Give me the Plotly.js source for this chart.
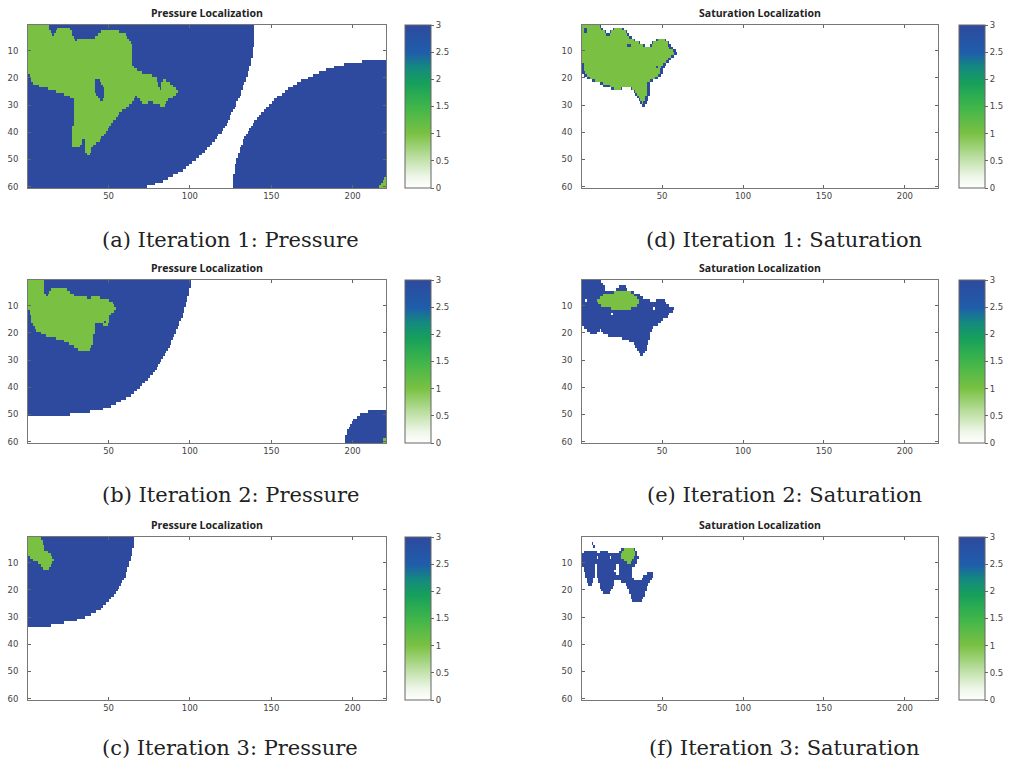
<!DOCTYPE html>
<html><head><meta charset="utf-8">
<script src="https://cdn.plot.ly/plotly-3.0.1.min.js"></script>
<style>html,body{margin:0;padding:0;background:#fff}#chart{width:1011px;height:765px}</style>
</head><body><div id="chart"></div>
<script>
// ---------------- data ----------------
const N_ROWS = 60, N_COLS = 220;
const VAL_BLUE = 3, VAL_GREEN = 1;
const X_TICKS = [50, 100, 150, 200];
const Y_TICKS = [10, 20, 30, 40, 50, 60];
const CB_TICKS = [0, 0.5, 1, 1.5, 2, 2.5, 3];
const CB_LABELS = ['0', '0.5', '1', '1.5', '2', '2.5', '3'];
const TITLE_P = 'Pressure Localization';
const TITLE_S = 'Saturation Localization';
const CAPTIONS = ['(a) Iteration 1: Pressure', '(d) Iteration 1: Saturation',
                  '(b) Iteration 2: Pressure', '(e) Iteration 2: Saturation',
                  '(c) Iteration 3: Pressure', '(f) Iteration 3: Saturation'];

// Pressure, iteration 1: last blue column of the upper-left region, per row
const P1_LEFT_EDGE = [139,139,139,139,139,139,139,139,138,138,138,138,137,137,137,136,136,135,135,134,
  134,133,132,132,131,131,130,129,128,128,127,126,125,124,124,123,122,121,120,119,
  117,116,115,113,112,110,109,107,105,103,101,99,97,95,92,89,86,83,78,73];
// Pressure, iteration 1: first blue column of the lower-right region, per row (0 = none)
const P1_RIGHT_START = [0,0,0,0,0,0,0,0,0,0,0,0,0,206,195,189,184,180,176,173,
  169,166,164,161,159,157,154,152,151,149,147,146,144,143,142,140,139,138,137,136,
  135,134,133,133,132,131,131,130,130,129,129,128,128,128,128,127,127,127,127,127];
const P1_GREEN = {
  1:[[1,13]], 2:[[1,13],[19,26]], 3:[[1,14],[18,27],[46,56]], 4:[[1,15],[17,27],[44,60]],
  5:[[1,28],[42,61]], 6:[[1,29],[31,62]], 7:[[1,63]], 8:[[1,64]], 9:[[1,64]], 10:[[1,64]],
  11:[[1,64]], 12:[[1,64]], 13:[[1,64]], 14:[[1,64]], 15:[[1,64]], 16:[[1,65]], 17:[[1,67]],
  18:[[1,70]], 19:[[2,76]], 20:[[3,79]], 21:[[3,41],[45,79],[84,85]], 22:[[4,41],[46,80],[83,87]],
  23:[[8,41],[47,80],[83,89]], 24:[[13,41],[48,81],[83,91]], 25:[[18,41],[48,92]],
  26:[[23,42],[48,91]], 27:[[27,43],[48,66],[68,89]], 28:[[29,44],[47,65],[70,86]],
  29:[[29,64],[71,74],[78,85]], 30:[[29,62],[82,84]], 31:[[29,60]], 32:[[29,58]], 33:[[29,56]],
  34:[[29,55]], 35:[[29,54]], 36:[[29,52]], 37:[[29,51]], 38:[[28,50]], 39:[[28,49]],
  40:[[28,48]], 41:[[28,47]], 42:[[28,45]], 43:[[28,33],[36,44]], 44:[[28,33],[36,42]],
  45:[[28,32],[36,40]], 46:[[36,39]], 47:[[36,39]], 48:[[37,38]],
  57:[[220,220]], 58:[[219,220]], 59:[[218,220]], 60:[[217,220]]
};

// Pressure, iteration 2
const P2_LEFT_EDGE = [100,100,100,99,99,99,98,98,97,97,96,96,95,95,94,93,93,92,91,91,
  90,89,88,88,87,86,85,84,83,82,81,80,79,78,77,75,74,72,70,69,
  67,65,63,60,57,54,51,46,38,26,0,0,0,0,0,0,0,0,0,0];
const P2_RIGHT_START = [0,0,0,0,0,0,0,0,0,0,0,0,0,0,0,0,0,0,0,0,
  0,0,0,0,0,0,0,0,0,0,0,0,0,0,0,0,0,0,0,0,
  0,0,0,0,0,0,0,0,210,205,203,201,200,199,198,197,197,196,196,196];
const P2_GREEN = {
  1:[[1,10]], 2:[[1,10]], 3:[[1,10]], 4:[[1,10],[15,24]], 5:[[1,10],[14,26]], 6:[[1,11],[13,28]],
  7:[[1,36],[40,44]], 8:[[1,50]], 9:[[1,52]], 10:[[1,53]], 11:[[1,54]], 12:[[2,53]], 13:[[2,51]],
  14:[[3,50]], 15:[[3,50]], 16:[[3,47],[49,50]], 17:[[4,41],[47,49]], 18:[[5,41]], 19:[[6,41]],
  20:[[9,41]], 21:[[12,40]], 22:[[18,40]], 23:[[23,40]], 24:[[26,40]], 25:[[29,39]], 26:[[32,38]],
  59:[[219,220]], 60:[[219,220]]
};

// Pressure, iteration 3
const P3_LEFT_EDGE = [65,65,65,65,64,64,64,63,63,62,62,61,61,60,60,59,58,57,56,55,
  54,53,51,50,48,46,45,42,39,35,30,22,14,0,0,0,0,0,0,0,
  0,0,0,0,0,0,0,0,0,0,0,0,0,0,0,0,0,0,0,0];
const P3_GREEN = {
  1:[[1,8]], 2:[[1,9]], 3:[[1,9]], 4:[[1,10]], 5:[[1,10]], 6:[[1,12]], 7:[[1,14]],
  8:[[2,15]], 9:[[4,16]], 10:[[7,15]], 11:[[9,14]], 12:[[10,13]]
};

// Saturation, iteration 1
const S1_BLUE = {
  1:[[1,12]], 2:[[1,13],[20,26]], 3:[[1,15],[18,28]], 4:[[1,29]], 5:[[1,31]],
  6:[[1,33],[47,52]], 7:[[1,36],[44,54]], 8:[[1,39],[43,55]], 9:[[1,56]], 10:[[1,58]],
  11:[[1,59]], 12:[[1,57]], 13:[[1,55]], 14:[[1,54]], 15:[[1,52]], 16:[[1,51]], 17:[[1,50]],
  18:[[1,50]], 19:[[2,49]], 20:[[4,47]], 21:[[7,44]], 22:[[12,42]], 23:[[14,42]],
  24:[[19,25],[31,42]], 25:[[33,42]], 26:[[34,42]], 27:[[35,41]], 28:[[36,41]], 29:[[37,40]], 30:[[38,39]]
};
const S1_GREEN = {
  1:[[1,11]], 2:[[1,1],[4,12],[21,25]], 3:[[1,1],[4,14],[19,27]], 4:[[1,15],[18,28]], 5:[[1,29]],
  6:[[1,32],[48,51]], 7:[[1,35],[45,53]], 8:[[1,28],[31,38],[44,53]], 9:[[1,54]], 10:[[1,56]],
  11:[[1,57]], 12:[[1,55]], 13:[[1,53]], 14:[[1,52]], 15:[[2,50]], 16:[[2,46],[48,49]],
  17:[[2,48]], 18:[[3,48]], 19:[[4,47]], 20:[[6,45]], 21:[[9,42]], 22:[[14,40]], 23:[[18,40]],
  24:[[21,24],[32,40]], 25:[[34,40]], 26:[[35,40]], 27:[[36,39]], 28:[[37,39]], 29:[[38,38]]
};

// Saturation, iteration 2
const S2_BLUE = {
  1:[[1,12]], 2:[[1,13]], 3:[[1,14],[24,27]], 4:[[1,14],[22,28]], 5:[[1,32]], 6:[[1,36]],
  7:[[1,38]], 8:[[1,42],[47,51]], 9:[[1,52]], 10:[[1,54]], 11:[[1,57]], 12:[[1,56]],
  13:[[1,54]], 14:[[1,53]], 15:[[1,50]], 16:[[1,49]], 17:[[1,47]], 18:[[2,44]],
  19:[[4,11],[13,43]], 20:[[6,9],[14,42]], 21:[[17,42]], 22:[[26,42]], 23:[[30,41]],
  24:[[33,41]], 25:[[34,40]], 26:[[35,40]], 27:[[36,39]], 28:[[37,38]]
};
const S2_GREEN = {
  5:[[21,30]], 6:[[14,32]], 7:[[12,34]], 8:[[10,35]], 9:[[11,35]], 10:[[13,34]], 11:[[19,30]]
};
const S2_HOLES = { 8:[[3,3]], 11:[[45,45]], 13:[[19,19]] };

// Saturation, iteration 3
const S3_BLUE = {
  3:[[7,7]], 4:[[8,8]], 5:[[25,33]], 6:[[2,9],[12,16],[24,34]], 7:[[1,34]],
  8:[[1,35]], 9:[[1,34]], 10:[[1,34]], 11:[[1,8],[10,21],[24,33]], 12:[[2,8],[10,21],[24,31]],
  13:[[2,8],[10,20],[24,31]], 14:[[3,8],[10,21],[24,31],[41,44]],
  15:[[3,8],[10,31],[39,44]], 16:[[4,7],[11,32],[38,43]],
  17:[[4,7],[11,20],[25,42]], 18:[[5,6],[12,20],[28,41]], 19:[[12,19],[29,40]],
  20:[[13,18],[30,40]], 21:[[14,17],[30,39]], 22:[[31,39]], 23:[[31,38]], 24:[[32,37]]
};
const S3_GREEN = {
  5:[[27,32]], 6:[[26,33]], 7:[[25,33]], 8:[[25,32]], 9:[[27,31]], 10:[[29,30]]
};
const S3_HOLES = { 8:[[10,10],[18,18]] };

// ---------------- build grids ----------------
function emptyGrid() { return Array.from({length: N_ROWS}, () => new Array(N_COLS).fill(0)); }
function paintRuns(z, runsByRow, v) {
  for (const [r, runs] of Object.entries(runsByRow))
    for (const [a, b] of runs) for (let c = a; c <= b; c++) z[r - 1][c - 1] = v;
}
function paintLeft(z, edges, v) { edges.forEach((e, i) => { for (let c = 1; c <= e; c++) z[i][c - 1] = v; }); }
function paintRight(z, starts, v) { starts.forEach((s, i) => { if (s > 0) for (let c = s; c <= N_COLS; c++) z[i][c - 1] = v; }); }

const zA = emptyGrid(); paintLeft(zA, P1_LEFT_EDGE, VAL_BLUE); paintRight(zA, P1_RIGHT_START, VAL_BLUE); paintRuns(zA, P1_GREEN, VAL_GREEN);
const zB = emptyGrid(); paintLeft(zB, P2_LEFT_EDGE, VAL_BLUE); paintRight(zB, P2_RIGHT_START, VAL_BLUE); paintRuns(zB, P2_GREEN, VAL_GREEN);
const zC = emptyGrid(); paintLeft(zC, P3_LEFT_EDGE, VAL_BLUE); paintRuns(zC, P3_GREEN, VAL_GREEN);
const zD = emptyGrid(); paintRuns(zD, S1_BLUE, VAL_BLUE); paintRuns(zD, S1_GREEN, VAL_GREEN);
const zE = emptyGrid(); paintRuns(zE, S2_BLUE, VAL_BLUE); paintRuns(zE, S2_GREEN, VAL_GREEN); paintRuns(zE, S2_HOLES, 0);
const zF = emptyGrid(); paintRuns(zF, S3_BLUE, VAL_BLUE); paintRuns(zF, S3_GREEN, VAL_GREEN); paintRuns(zF, S3_HOLES, 0);

// ---------------- layout ----------------
const W = 1011, H = 765;
const COLS_PX = [[28, 386], [582, 938]];
const CB_X_PX = [405, 959];
const ROWS_PX = [[25, 188], [280, 443], [537, 700]];
const TITLE_Y_PX = [13, 268, 525];
const CAPTION_Y_PX = [240, 495, 748];
const CAPTION_X_PX = [230, 784];

const colorscale = [
  [0, '#ffffff'], [0.07, '#eef6e8'], [0.18, '#bfe0a6'], [0.333, '#7ac143'],
  [0.5, '#3fb54a'], [0.64, '#17a05a'], [0.74, '#14897f'], [0.83, '#1f5dab'], [1, '#2e4a9e']
];

const grids = [zA, zD, zB, zE, zC, zF];
const tickFont = {family: 'DejaVu Sans, sans-serif', size: 8.5, color: '#444'};
const data = [], layout = {
  width: W, height: H, margin: {l: 0, r: 0, t: 0, b: 0},
  paper_bgcolor: '#fff', plot_bgcolor: '#fff', showlegend: false, annotations: []
};

grids.forEach((z, i) => {
  const row = Math.floor(i / 2), col = i % 2;
  const n = i + 1, sfx = n === 1 ? '' : String(n);
  const yDom = [1 - ROWS_PX[row][1] / H, 1 - ROWS_PX[row][0] / H];
  data.push({
    type: 'heatmap', z: z, x0: 1, dx: 1, y0: 1, dy: 1,
    xaxis: 'x' + sfx, yaxis: 'y' + sfx, zmin: 0, zmax: 3, zsmooth: false,
    colorscale: colorscale, hoverinfo: 'skip',
    colorbar: {
      x: CB_X_PX[col] / W, xanchor: 'left', xpad: 0, ypad: 0,
      y: (yDom[0] + yDom[1]) / 2, yanchor: 'middle', len: yDom[1] - yDom[0], lenmode: 'fraction',
      thickness: 26, thicknessmode: 'pixels', outlinewidth: 1, outlinecolor: '#666',
      tickvals: CB_TICKS, ticktext: CB_LABELS, ticks: 'outside', ticklen: 3, tickcolor: '#666',
      tickfont: tickFont
    }
  });
  const axCommon = {
    ticks: 'inside', ticklen: 3, tickcolor: '#666', showline: true, linecolor: '#777', linewidth: 1,
    mirror: 'ticks', showgrid: false, zeroline: false, tickfont: tickFont, fixedrange: true
  };
  layout['xaxis' + sfx] = Object.assign({}, axCommon, {
    domain: [COLS_PX[col][0] / W, COLS_PX[col][1] / W], anchor: 'y' + sfx,
    range: [0.5, N_COLS + 0.5], tickmode: 'array', tickvals: X_TICKS
  });
  layout['yaxis' + sfx] = Object.assign({}, axCommon, {
    domain: yDom, anchor: 'x' + sfx, range: [N_ROWS + 0.5, 0.5], tickmode: 'array', tickvals: Y_TICKS,
    ticklabelstandoff: 7
  });
  layout.annotations.push({
    text: col === 0 ? TITLE_P : TITLE_S, xref: 'paper', yref: 'paper',
    x: (COLS_PX[col][0] + COLS_PX[col][1]) / 2 / W, y: 1 - TITLE_Y_PX[row] / H,
    xanchor: 'center', yanchor: 'middle', showarrow: false,
    font: {family: 'Open Sans, sans-serif', size: 10.5, color: '#222', weight: 700}
  });
  layout.annotations.push({
    text: CAPTIONS[i], xref: 'paper', yref: 'paper',
    x: CAPTION_X_PX[col] / W, y: 1 - CAPTION_Y_PX[row] / H,
    xanchor: 'center', yanchor: 'middle', showarrow: false,
    font: {family: 'DejaVu Serif, serif', size: 21, color: '#222'}
  });
});

Plotly.newPlot('chart', data, layout, {staticPlot: true, displayModeBar: false});
</script>
</body></html>
